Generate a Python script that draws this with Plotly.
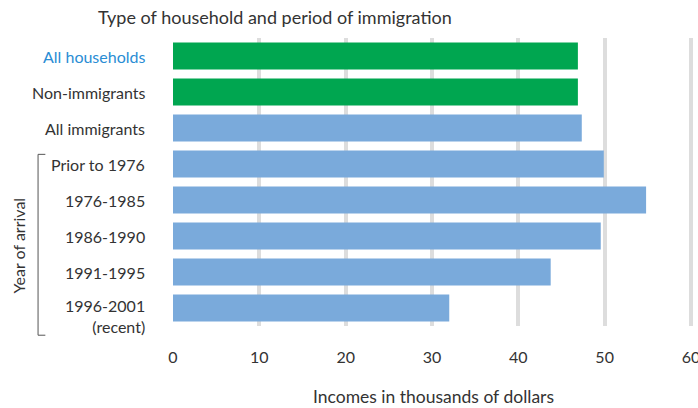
import plotly.graph_objects as go

categories = ["All households", "Non-immigrants", "All immigrants", "Prior to 1976",
              "1976-1985", "1986-1990", "1991-1995", "1996-2001"]
label_text = ["All households", "Non-immigrants", "All immigrants", "Prior to 1976",
              "1976-1985", "1986-1990", "1991-1995", "1996-2001<br>(recent)"]
values = [46.9, 46.9, 47.35, 49.9, 54.8, 49.55, 43.75, 32.0]
colors = ["#00a650", "#00a650"] + ["#7aaadb"] * 6
label_colors = ["#2a8dd4"] + ["#333333"] * 7
x_ticks = [0, 10, 20, 30, 40, 50, 60]

FONT = "Lato, Open Sans, sans-serif"

fig = go.Figure(go.Bar(
    y=categories, x=values, orientation="h",
    marker=dict(color=colors, line=dict(width=0)),
    width=0.75,
))

annotations = []
for cat, txt, col in zip(categories, label_text, label_colors):
    multi = "<br>" in txt
    annotations.append(dict(
        x=-0.05, xref="paper", y=cat, yref="y", text=txt, showarrow=False,
        xanchor="right", yanchor="top" if multi else "middle",
        yshift=14 if multi else 0, align="right",
        font=dict(family=FONT, size=16, color=col),
    ))
annotations.append(dict(
    x=-0.297, xref="paper", y=0.28, yref="paper", text="Year of arrival",
    showarrow=False, textangle=-90, xanchor="center", yanchor="middle",
    font=dict(family=FONT, size=16, color="#333333"),
))

shapes = [
    dict(type="line", xref="paper", yref="paper", x0=-0.259, x1=-0.259, y0=0.596, y1=-0.032,
         line=dict(color="#555555", width=1)),
    dict(type="line", xref="paper", yref="paper", x0=-0.259, x1=-0.245, y0=0.596, y1=0.596,
         line=dict(color="#555555", width=1)),
    dict(type="line", xref="paper", yref="paper", x0=-0.259, x1=-0.245, y0=-0.032, y1=-0.032,
         line=dict(color="#555555", width=1)),
]

fig.update_layout(
    width=698, height=408,
    margin=dict(l=173, r=4, t=38, b=82, autoexpand=False),
    plot_bgcolor="white", paper_bgcolor="white",
    bargap=0.25,
    showlegend=False,
    title=dict(text="Type of household and period of immigration", x=98/698, xanchor="left",
               y=1 - 18/408, yanchor="middle",
               font=dict(family=FONT, size=18, color="#333333")),
    xaxis=dict(range=[0, 60.35], tickvals=x_ticks, showgrid=True, gridcolor="#dddddd", gridwidth=4,
               zeroline=False, showline=False, ticks="", ticklabelstandoff=20,
               ticklabeloverflow="allow", automargin=False,
               tickfont=dict(family=FONT, size=16, color="#333333"),
               title=dict(text="Incomes in thousands of dollars", standoff=25,
                          font=dict(family=FONT, size=17.5, color="#333333"))),
    yaxis=dict(categoryorder="array", categoryarray=categories, autorange="reversed",
               showticklabels=False, showgrid=False, zeroline=False),
    annotations=annotations,
    shapes=shapes,
)

fig.write_html("out.html", config={"displayModeBar": False},
               post_script="document.body.style.margin='0';")
